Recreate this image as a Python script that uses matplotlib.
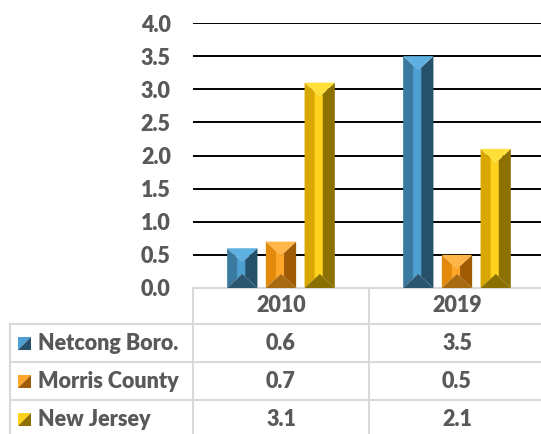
import matplotlib.pyplot as plt
import matplotlib.transforms as mtransforms
from matplotlib.patches import Polygon

# data
years = ['2010', '2019']
series_names = ['Netcong Boro.', 'Morris County', 'New Jersey']
netcong = [0.6, 3.5]
morris = [0.7, 0.5]
new_jersey = [3.1, 2.1]
series = [netcong, morris, new_jersey]

# face colours: left, highlight stripe, right, top, bottom
palettes = [
    ('#3b7aa0', '#4e9fd2', '#27506a', '#5eb0e0', '#2a5670'),
    ('#e28a0c', '#ffa52a', '#a05c05', '#ffb547', '#a86a10'),
    ('#d8a800', '#ffd21e', '#8c7100', '#ffe03a', '#8a7000'),
]
TXT = '#595959'
TBL_LINE = '#d9d9d9'
FS = 15.5
FW = 'heavy'

plt.rcParams['font.family'] = ['Lato', 'DejaVu Sans']

W, H = 541, 434
fig = plt.figure(figsize=(W / 100, H / 100), dpi=100)
# plot area in pixels: left 193, right 545, top 23, bottom 288
ax = fig.add_axes([193 / W, (H - 288) / H, 352 / W, 265 / H])
ax.set_xlim(-0.5, len(years) - 0.5)
ax.set_ylim(0, 4)

px_per_unit = 265 / 4.0
px_per_cat = 176.0


def bevel_bar(ax, xc, w, h, cols):
    left_c, hi_c, right_c, top_c, bot_c = cols
    x0, x1 = xc - w / 2, xc + w / 2
    vb = min(14 / px_per_unit, h / 2)
    faces = [
        ([(x0, 0), (xc, vb), (xc, h - vb), (x0, h)], left_c),
        ([(x1, 0), (xc, vb), (xc, h - vb), (x1, h)], right_c),
    ]
    # highlight stripe following the triangle edges
    sx0, sx1 = xc - 0.17 * w, xc + 0.1 * w
    yb = lambda x: vb * (1 - abs(x - xc) / (w / 2))
    faces.append(([(sx0, yb(sx0)), (xc, vb), (sx1, yb(sx1)),
                   (sx1, h - yb(sx1)), (xc, h - vb), (sx0, h - yb(sx0))], hi_c))
    faces.append(([(x0, h), (x1, h), (xc, h - vb)], top_c))
    faces.append(([(x0, 0), (x1, 0), (xc, vb)], bot_c))
    for pts, c in faces:
        ax.add_patch(Polygon(pts, closed=True, facecolor=c, edgecolor='none', zorder=3))


bar_w = 0.172
offsets = [-0.22, 0.0, 0.22]
for s, vals in enumerate(series):
    for i, v in enumerate(vals):
        bevel_bar(ax, i + offsets[s], bar_w, v, palettes[s])

# axes styling
ax.set_yticks([k * 0.5 for k in range(9)])
ax.set_yticklabels([f'{k * 0.5:.1f}' for k in range(9)])
ax.tick_params(axis='y', length=0, pad=16, labelsize=FS, labelcolor=TXT)
for lab in ax.get_yticklabels():
    lab.set_fontweight(FW)
ax.set_xticks([])
for sp in ax.spines.values():
    sp.set_visible(False)
ax.set_axisbelow(True)
ax.grid(axis='y', color='black', linewidth=1.4)
ax.get_ygridlines()[0].set_visible(False)

# data table under the plot (x in data units, y in axes fraction)
tr = mtransforms.blended_transform_factory(ax.transData, ax.transAxes)
x_lo, x_hi = -0.5, len(years) - 0.5
x_lab = x_lo - 183 / px_per_cat
row_edges = [0, -36 / 265, -74 / 265, -112 / 265, -150 / 265]
lkw = dict(color=TBL_LINE, linewidth=1.5, transform=tr, clip_on=False, zorder=1)

ax.plot([x_lo, x_hi], [row_edges[0]] * 2, **lkw)
for y in row_edges[1:]:
    ax.plot([x_lab, x_hi], [y, y], **lkw)
ax.plot([x_lab, x_lab], [row_edges[1], row_edges[-1]], **lkw)
for k in range(len(years) + 1):
    ax.plot([x_lo + k, x_lo + k], [row_edges[0], row_edges[-1]], **lkw)

tkw = dict(fontsize=FS, fontweight=FW, color=TXT, transform=tr, clip_on=False)
for i, yr in enumerate(years):
    ax.text(i, (row_edges[0] + row_edges[1]) / 2, yr, ha='center', va='center', **tkw)

key_w = 13 / px_per_cat
key_h = 13 / 265
key_x = x_lo - 175 / px_per_cat
for s, vals in enumerate(series):
    yc = (row_edges[s + 1] + row_edges[s + 2]) / 2
    ax.text(x_lo - 155 / px_per_cat, yc, series_names[s], ha='left', va='center', **tkw)
    for i, v in enumerate(vals):
        ax.text(i, yc, f'{v:.1f}', ha='center', va='center', **tkw)
    # legend key
    kx0, kx1 = key_x, key_x + key_w
    ky0, ky1 = yc - key_h / 2, yc + key_h / 2
    light, dark = palettes[s][1], palettes[s][2]
    ax.add_patch(Polygon([(kx0, ky0), (kx0, ky1), (kx1, ky1)], closed=True,
                         facecolor=light, edgecolor='none',
                         transform=tr, clip_on=False, zorder=4))
    ax.add_patch(Polygon([(kx0, ky0), (kx1, ky0), (kx1, ky1)], closed=True,
                         facecolor=dark, edgecolor='none',
                         transform=tr, clip_on=False, zorder=4))

fig.savefig('out.png', dpi=100)
